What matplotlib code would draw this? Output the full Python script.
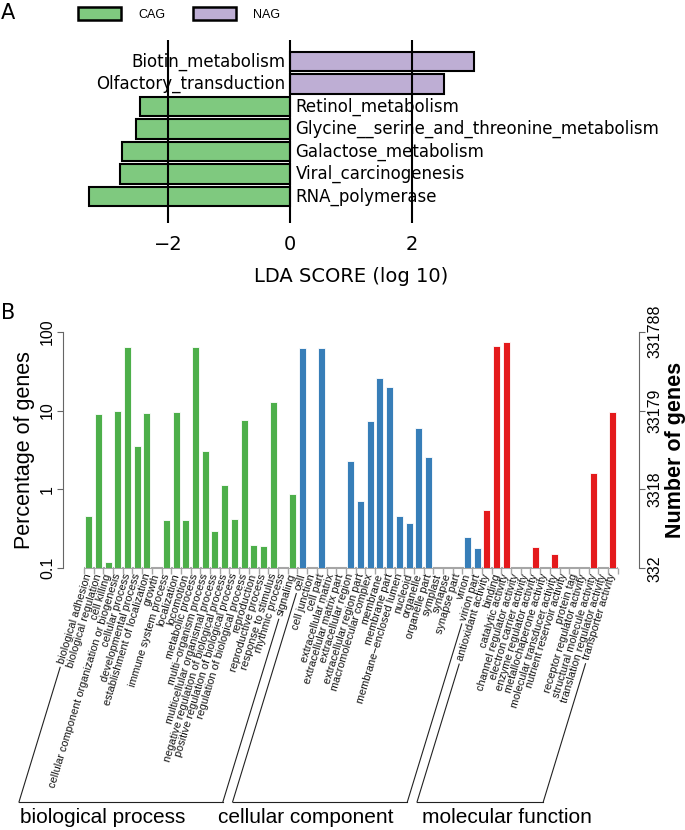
import numpy as np
import matplotlib
matplotlib.use('agg')
import matplotlib.pyplot as plt
from matplotlib.patches import Patch
from matplotlib.lines import Line2D

# ---- panel A data (top to bottom) ----
lda_names = ['Biotin_metabolism', 'Olfactory_transduction', 'Retinol_metabolism',
             'Glycine__serine_and_threonine_metabolism', 'Galactose_metabolism',
             'Viral_carcinogenesis', 'RNA_polymerase']
lda_scores = [3.01, 2.53, -2.46, -2.53, -2.76, -2.78, -3.29]
lda_groups = ['NAG', 'NAG', 'CAG', 'CAG', 'CAG', 'CAG', 'CAG']
group_colors = {'CAG': '#7FC97F', 'NAG': '#BEAED4'}

# ---- panel B data ----
bp_terms = ['biological adhesion', 'biological regulation', 'cell killing',
            'cellular component organization or biogenesis', 'cellular process',
            'developmental process', 'establishment of localization', 'growth',
            'immune system process', 'localization', 'locomotion', 'metabolic process',
            'multi\u2212organism process', 'multicellular organismal process',
            'negative regulation of biological process',
            'positive regulation of biological process',
            'regulation of biological process', 'reproduction', 'reproductive process',
            'response to stimulus', 'rhythmic process', 'signaling']
bp_pct = [0.46, 9.1, 0.12, 9.9, 64, 3.6, 9.35, 0, 0.405, 9.5, 0.415, 63.5,
          3.1, 0.30, 1.15, 0.425, 7.5, 0.195, 0.19, 13, 0, 0.87]

cc_terms = ['cell', 'cell junction', 'cell part', 'extracellular matrix',
            'extracellular matrix part', 'extracellular region', 'extracellular region part',
            'macromolecular complex', 'membrane', 'membrane part',
            'membrane\u2212enclosed lumen', 'nucleoid', 'organelle', 'organelle part',
            'symplast', 'synapse', 'synapse part', 'virion', 'virion part']
cc_pct = [62, 0, 62, 0, 0, 2.28, 0.72, 7.4, 25.9, 20.1, 0.46, 0.38, 6.0, 2.6,
          0, 0, 0, 0.25, 0.18]

mf_terms = ['antioxidant activity', 'binding', 'catalytic activity',
            'channel regulator activity', 'electron carrier activity',
            'enzyme regulator activity', 'metallochaperone activity',
            'molecular transducer activity', 'nutrient reservoir activity', 'protein tag',
            'receptor regulator activity', 'structural molecule activity',
            'translation regulator activity', 'transporter activity']
mf_pct = [0.55, 66, 75, 0, 0, 0.188, 0, 0.153, 0, 0, 0, 1.63, 0, 9.5]

go_groups = ['biological process', 'cellular component', 'molecular function']
go_colors = ['#4DAF4A', '#377EB8', '#E41A1C']
pct_ticks = [0.1, 1, 10, 100]
pct_ticklabels = ['0.1', '1', '10', '100']
gene_ticklabels = ['332', '3318', '33179', '331788']

W, H = 685, 830
fig = plt.figure(figsize=(W / 100, H / 100), dpi=100)

def px(x0, y_top, x1, y_bot):
    # pixel box -> figure fraction rect
    return [x0 / W, 1 - y_bot / H, (x1 - x0) / W, (y_bot - y_top) / H]

# =================== panel A ===================
axA = fig.add_axes(px(76.5, 40, 625.5, 223))
ypos = np.arange(len(lda_names))[::-1]
cols = [group_colors[g] for g in lda_groups]
axA.barh(ypos, lda_scores, height=0.86, color=cols, edgecolor='black', linewidth=1.5, zorder=2)
for y, name, s in zip(ypos, lda_names, lda_scores):
    if s > 0:
        axA.text(-0.07, y, name, ha='right', va='center', fontsize=12, zorder=3)
    else:
        axA.text(0.09, y, name, ha='left', va='center', fontsize=12, zorder=3)
for g in [-2, 0, 2]:
    axA.axvline(g, color='black', lw=1.5, zorder=5)
axA.set_xlim(-3.5, 5.5)
axA.set_ylim(-1.17, 6.96)
axA.set_xticks([-2, 0, 2])
axA.set_yticks([])
axA.tick_params(axis='x', length=0, labelsize=14, pad=9)
for sp in axA.spines.values():
    sp.set_visible(False)
axA.set_xlabel('LDA SCORE (log 10)', fontsize=14, labelpad=9)

fig.legend(handles=[Patch(facecolor=group_colors[k], edgecolor='black', lw=1.8, label=k)
                    for k in ['CAG', 'NAG']],
           loc='upper left', bbox_to_anchor=(78 / W, 1 - 7 / H), ncol=2, frameon=False,
           prop={'family': 'Liberation Sans', 'size': 9}, handlelength=3.45,
           handleheight=1.28, handletextpad=1.36, columnspacing=2.24,
           borderpad=0, borderaxespad=0)

fig.text(1 / W, 1 - 3 / H, 'A', fontsize=15, va='top', ha='left')
fig.text(1 / W, 1 - 303 / H, 'B', fontsize=15, va='top', ha='left')

# =================== panel B ===================
LAB_FONT = 'Liberation Sans'
ROT = 73
terms = bp_terms + cc_terms + mf_terms
pct = bp_pct + cc_pct + mf_pct
sizes = [len(bp_terms), len(cc_terms), len(mf_terms)]
bar_cols = []
for c, n in zip(go_colors, sizes):
    bar_cols += [c] * n
x = np.arange(len(terms))

axB = fig.add_axes(px(62.7, 331.7, 639, 568.3))
axB.set_yscale('log')
keep = [i for i in x if pct[i] > 0]
axB.bar([x[i] for i in keep], [pct[i] - 0.1 for i in keep], bottom=0.1, width=0.72,
        color=[bar_cols[i] for i in keep], edgecolor='white', linewidth=0.6, zorder=2)
axB.set_ylim(0.1, 100)
axB.set_xlim(-2.68, len(terms) - 1 + 2.68)
axB.set_yticks(pct_ticks)
axB.set_yticklabels(pct_ticklabels, rotation=90, va='center', family=LAB_FONT, fontsize=11.5)
axB.yaxis.set_minor_locator(matplotlib.ticker.NullLocator())
axB.tick_params(axis='y', length=4, pad=1.5, color='0.4')
axB.set_ylabel('Percentage of genes', family=LAB_FONT, fontsize=15.5, labelpad=4)

axB.hlines(0.1, -0.5, len(terms) - 0.5, color='0.65', lw=1.5, clip_on=False, zorder=1)
axB.set_xticks(x)
axB.set_xticklabels(terms, rotation=ROT, ha='right', va='center', rotation_mode='anchor',
                    family=LAB_FONT, fontsize=7.8, color='#111111')
axB.set_xticks(np.arange(-0.5, len(terms), 1), minor=True)
axB.tick_params(axis='x', which='major', length=0, pad=4)
axB.tick_params(axis='x', which='minor', length=4, color='0.65', width=1)

for s in ['top', 'bottom', 'right']:
    axB.spines[s].set_visible(False)
axB.spines['left'].set_color('0.4')

ax2 = axB.twinx()
ax2.set_yscale('log')
ax2.set_ylim(0.1, 100)
ax2.set_yticks(pct_ticks)
ax2.set_yticklabels(gene_ticklabels, rotation=90, va='center', family=LAB_FONT, fontsize=11.5)
ax2.yaxis.set_minor_locator(matplotlib.ticker.NullLocator())
ax2.tick_params(axis='y', length=4, pad=2, color='0.4')
for s in ['top', 'bottom', 'left']:
    ax2.spines[s].set_visible(False)
ax2.spines['right'].set_color('0.4')
ax2.set_ylabel('Number of genes', family=LAB_FONT, fontsize=15.5, fontweight='bold', labelpad=2)

# brackets under the term labels
fig.canvas.draw()
renderer = fig.canvas.get_renderer()
inv = fig.transFigure.inverted()
th = np.deg2rad(ROT)
ybot = H - 802
labs = axB.get_xticklabels()
name_x = [20, 218, 422]
first = 0
for gi, n in enumerate(sizes):
    bottoms = []
    for i in (first, first + n - 1):
        lab = labs[i]
        axp, ayp = lab.get_transform().transform(lab.get_position())
        w, h, d = renderer.get_text_width_height_descent(lab.get_text(), lab.get_fontproperties(), ismath=False)
        sx = axp - (w + 4) * np.cos(th)
        sy = ayp - (w + 4) * np.sin(th)
        ex = sx - (sy - ybot) / np.tan(th)
        p0 = inv.transform((sx, sy))
        p1 = inv.transform((ex, ybot))
        fig.add_artist(Line2D([p0[0], p1[0]], [p0[1], p1[1]], color='#222222', lw=0.8))
        bottoms.append(p1)
    fig.add_artist(Line2D([bottoms[0][0], bottoms[1][0]], [bottoms[0][1], bottoms[1][1]],
                          color='#222222', lw=0.8))
    fig.text(name_x[gi] / W, 1 - 823 / H, go_groups[gi], family=LAB_FONT, fontsize=15,
             ha='left', va='baseline')
    first += n

fig.savefig('out.png', dpi=100)
